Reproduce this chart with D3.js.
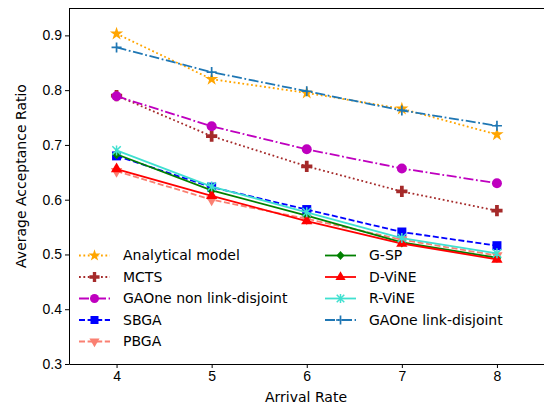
<!DOCTYPE html>
<meta charset="utf-8">
<style>
  body { margin: 0; background: #fff; }
  svg { font-family: "DejaVu Sans", sans-serif; }
  .axis text { font-size: 14px; fill: #000; }
  .axis path, .axis line { stroke: #000; }
  .legend text { font-size: 14px; }
</style>
<svg id="chart" width="544" height="409"></svg>
<script src="https://d3js.org/d3.v7.min.js"></script>
<script>
var rates = [4, 5, 6, 7, 8]
var yTicks = [0.3, 0.4, 0.5, 0.6, 0.7, 0.8, 0.9]

var analytical = [0.903, 0.820, 0.795, 0.766, 0.719]
var mcts = [0.790, 0.716, 0.661, 0.615, 0.580]
var gaoneNon = [0.789, 0.734, 0.692, 0.657, 0.630]
var sbga = [0.680, 0.623, 0.582, 0.541, 0.516]
var pbga = [0.652, 0.600, 0.565, 0.527, 0.498]
var gsp = [0.683, 0.617, 0.571, 0.522, 0.494]
var dvine = [0.656, 0.607, 0.561, 0.520, 0.491]
var rvine = [0.690, 0.624, 0.577, 0.530, 0.502]
var gaoneLd = [0.878, 0.833, 0.798, 0.763, 0.735]

// dash patterns, matplotlib-ish
var dotted = "1.8,2.6", dashed = "6,2.6", dashdot = "10,2.6,1.8,2.6"

var series = [
  {name: "Analytical model", values: analytical, color: "#ffa500", dash: dotted, marker: "star", col: 0},
  {name: "MCTS", values: mcts, color: "#a52a2a", dash: dotted, marker: "plusFilled", col: 0},
  {name: "GAOne non link-disjoint", values: gaoneNon, color: "#bf00bf", dash: dashdot, marker: "circle", col: 0},
  {name: "SBGA", values: sbga, color: "#0000ff", dash: dashed, marker: "square", col: 0},
  {name: "PBGA", values: pbga, color: "#fa8072", dash: dashed, marker: "triDown", col: 0},
  {name: "G-SP", values: gsp, color: "#008000", dash: null, marker: "diamond", col: 1},
  {name: "D-ViNE", values: dvine, color: "#ff0000", dash: null, marker: "triUp", col: 1},
  {name: "R-ViNE", values: rvine, color: "#40e0d0", dash: null, marker: "asterisk", col: 1},
  {name: "GAOne link-disjoint", values: gaoneLd, color: "#1f77b4", dash: dashdot, marker: "plus", col: 1}
]

var svg = d3.select("#chart")
var x = d3.scaleLinear().domain([3.5, 8.5]).range([69, 544.5])
var y = d3.scaleLinear().domain([0.3, 0.95]).range([364, 8])

// top frame line
svg.append("line").attr("x1", 69).attr("x2", 544).attr("y1", 8.5).attr("y2", 8.5).attr("stroke", "#000")

svg.append("g").attr("class", "axis")
  .attr("transform", "translate(0,364)")
  .call(d3.axisBottom(x).tickValues(rates).tickFormat(d3.format("d")).tickSizeInner(4).tickSizeOuter(0).tickPadding(3))

svg.append("g").attr("class", "axis")
  .attr("transform", "translate(69,0)")
  .call(d3.axisLeft(y).tickValues(yTicks).tickFormat(d3.format(".1f")).tickSizeInner(4).tickSizeOuter(0).tickPadding(3))

svg.append("text").attr("x", 306).attr("y", 402).attr("text-anchor", "middle")
  .style("font-size", "14px").text("Arrival Rate")
svg.append("text").attr("transform", "translate(26,176) rotate(-90)").attr("text-anchor", "middle")
  .style("font-size", "14px").text("Average Acceptance Ratio")

var ms = 10

function drawMarker(g, s, k) {
  var c = s.color, m = ms * (k || 1)
  switch (s.marker) {
    case "star":
      g.append("path").attr("d", d3.symbol(d3.symbolStar, m * m * 0.55)()).attr("fill", c)
      break
    case "plusFilled":
      g.append("path").attr("d", d3.symbol(d3.symbolCross, m * m * 0.7)()).attr("fill", c)
      break
    case "circle":
      g.append("circle").attr("r", m / 2).attr("fill", c)
      break
    case "square":
      g.append("rect").attr("x", -m / 2 + 0.5).attr("y", -m / 2 + 0.5).attr("width", m - 1).attr("height", m - 1).attr("fill", c)
      break
    case "triDown":
      g.append("path").attr("d", d3.symbol(d3.symbolTriangle, m * m * 0.55)()).attr("transform", "rotate(180)").attr("fill", c)
      break
    case "triUp":
      g.append("path").attr("d", d3.symbol(d3.symbolTriangle, m * m * 0.55)()).attr("fill", c)
      break
    case "diamond":
      g.append("path").attr("d", "M0," + (-m / 2) + "L" + (m * 0.45) + ",0L0," + (m / 2) + "L" + (-m * 0.45) + ",0Z").attr("fill", c)
      break
    case "asterisk":
      var a = m * 0.42
      g.append("path").attr("d", "M" + -a + "," + -a + "L" + a + "," + a + "M" + -a + "," + a + "L" + a + "," + -a + "M0," + (-m / 2) + "L0," + (m / 2))
        .attr("stroke", c).attr("stroke-width", 1.5).attr("fill", "none")
      break
    case "plus":
      g.append("path").attr("d", "M" + (-m / 2) + ",0L" + (m / 2) + ",0M0," + (-m / 2) + "L0," + (m / 2))
        .attr("stroke", c).attr("stroke-width", 1.7).attr("fill", "none")
      break
  }
}

var line = d3.line().x(function(d, i) { return x(rates[i]) }).y(function(d) { return y(d) })

series.forEach(function(s) {
  svg.append("path").datum(s.values)
    .attr("d", line)
    .attr("fill", "none")
    .attr("stroke", s.color)
    .attr("stroke-width", 1.8)
    .attr("stroke-dasharray", s.dash)
  s.values.forEach(function(v, i) {
    var g = svg.append("g").attr("transform", "translate(" + x(rates[i]) + "," + y(v) + ")")
    drawMarker(g, s)
  })
})

// legend
var legend = svg.append("g").attr("class", "legend")
var colX = [79, 325]
var rowCount = [0, 0]
series.forEach(function(s) {
  var row = rowCount[s.col]++
  var g = legend.append("g").attr("transform", "translate(" + colX[s.col] + "," + (255.5 + row * 21.5) + ")")
  g.append("line").attr("x1", 0).attr("x2", 31).attr("stroke", s.color).attr("stroke-width", 1.8)
    .attr("stroke-dasharray", s.dash)
  var m = g.append("g").attr("transform", "translate(15.5,0)")
  drawMarker(m, s, 0.9)
  g.append("text").attr("x", 44).attr("dy", "0.35em").text(s.name)
})
</script>
